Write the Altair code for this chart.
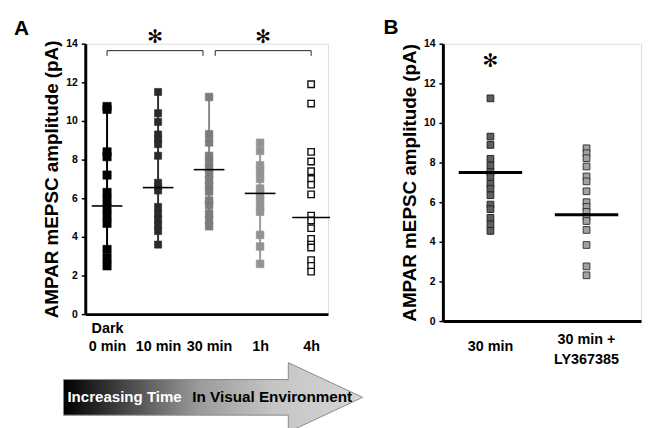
import json
import altair as alt
import pandas as pd

FONT = "Liberation Sans"

# ---------------- data ----------------
cats_a = ["Dark 0 min", "10 min", "30 min", "1h", "4h"]
tick_lines_a = [["Dark", "0 min"], ["", "10 min"], ["", "30 min"], ["", "1h"], ["", "4h"]]
vals_dark = [10.75, 10.6, 8.4, 8.15, 7.2, 6.3, 5.9, 5.5, 5.1, 4.7, 3.35, 2.9, 2.5]
vals_10 = [11.5, 10.4, 9.95, 9.3, 9.05, 8.8, 8.2, 6.8, 6.6, 6.4, 5.55, 5.2, 4.9, 4.6, 4.3, 3.6]
vals_30 = [11.24, 9.31, 8.89, 8.19, 7.85, 7.52, 7.27, 6.93, 6.68, 6.35, 5.88, 5.65, 5.21, 4.88, 4.55]
vals_1h = [8.87, 8.45, 7.7, 7.4, 7.0, 6.5, 6.2, 5.9, 5.6, 5.3, 4.1, 3.5, 2.6]
vals_4h = [11.9, 10.9, 8.4, 7.9, 7.4, 7.0, 6.7, 6.2, 5.1, 4.85, 4.45, 3.9, 3.6, 3.45, 2.8, 2.5, 2.2]
means_a = [5.6, 6.55, 7.48, 6.25, 5.0]

cats_b = ["30 min", "30 min + LY367385"]
tick_lines_b = [["30 min"], ["30 min +", "LY367385"]]
vals_b_30 = vals_30
vals_b_ly = [8.72, 8.47, 8.22, 7.8, 7.3, 7.05, 6.55, 6.0, 5.76, 5.51, 5.26, 5.05, 4.6, 3.84, 2.76, 2.31]
means_b = [7.5, 5.37]

y_ticks = [0, 2, 4, 6, 8, 10, 12, 14]
y_title = "AMPAR mEPSC amplitude (pA)"
arrow_left_text = "Increasing Time"
arrow_right_text = "In Visual Environment"
star = "\u273b"

# ---------------- styles ----------------
fill_a = ["#000000", "#2a2a2a", "#7b7b7b", "#939393", "#ffffff"]
stroke_a = ["#000000", "#2a2a2a", "#7b7b7b", "#939393", "#111111"]
size_a = [70, 52, 60, 60, 42]
sw_a = [0.6, 0.6, 0.6, 0.6, 1.4]
line_a = ["#000000", "#333333", "#888888", "#9a9a9a"]
half_a = [0.3, 0.3, 0.3, 0.3, 0.37]
fill_b = ["#5e5e5e", "#a2a2a2"]
stroke_b = ["#262626", "#363636"]
half_b = [0.33, 0.33]

all_a = [vals_dark, vals_10, vals_30, vals_1h, vals_4h]
rows = []
for i, vs in enumerate(all_a):
    for v in vs:
        rows.append(dict(idx=i, cat=cats_a[i], value=v, fill=fill_a[i], stroke=stroke_a[i],
                         sz=size_a[i], sw=sw_a[i], lc=line_a[i] if i < len(line_a) else "#000"))
df_a = pd.DataFrame(rows)
df_mean_a = pd.DataFrame(dict(idx=list(range(5)), mean=means_a, half=half_a))

rows = []
for i, vs in enumerate([vals_b_30, vals_b_ly]):
    for v in vs:
        rows.append(dict(idx=i, cat=cats_b[i], value=v, fill=fill_b[i], stroke=stroke_b[i]))
df_b = pd.DataFrame(rows)
df_mean_b = pd.DataFrame(dict(idx=[0, 1], mean=means_b, half=half_b))
df_lab_b = pd.DataFrame(dict(idx=[0, 1], lines=tick_lines_b, n=[len(t) for t in tick_lines_b]))

BR_Y, BR_DROP, BR_GAP, STAR_Y = 13.64, 0.27, 0.12, 14.36
brackets = [(0, 2 - BR_GAP), (2 + BR_GAP, 4)]
seg = []
for a, b in brackets:
    seg.append(dict(x=a, x2=b, y=BR_Y, y2=BR_Y))
    seg.append(dict(x=a, x2=a, y=BR_Y, y2=BR_Y - BR_DROP))
    seg.append(dict(x=b, x2=b, y=BR_Y, y2=BR_Y - BR_DROP))
df_br = pd.DataFrame(seg)
df_star_a = pd.DataFrame(dict(x=[(a + b) / 2 for a, b in brackets], y=[STAR_Y, STAR_Y], t=[star, star]))
df_star_b = pd.DataFrame(dict(x=[0], y=[13.13], t=[star]))

one = pd.DataFrame({"k": [0]})

# ---------------- scales / axes ----------------
WA, HA = 245, 273
WB, HB = 200, 280
xa = alt.Scale(domain=[-0.427, 4.33], nice=False, zero=False)
ya = alt.Scale(domain=[0, 14], nice=False)
xb = alt.Scale(domain=[-0.495, 1.567], nice=False, zero=False)
yb = alt.Scale(domain=[0, 14], nice=False)


def y_axis():
    return alt.Axis(values=y_ticks, grid=False, title=y_title, titleFontSize=19,
                    titleFontWeight="bold", titleColor="black", titlePadding=4,
                    labelFontSize=10.5, labelFontWeight="bold", labelColor="black",
                    labelPadding=4, tickSize=4, tickWidth=1.5, tickColor="black",
                    domainWidth=3, domainColor="black")


axis_xa = alt.Axis(values=[0, 1, 2, 3, 4], grid=False, title=None, ticks=False, tickSize=0,
                   domainWidth=3, domainColor="black",
                   labelExpr=json.dumps(tick_lines_a) + "[datum.value]",
                   labelFontSize=14.5, labelFontWeight="bold", labelColor="black",
                   labelBaseline="top", labelPadding=8, labelLineHeight=17.5,
                   labelOverlap=False, labelFlush=False, labelBound=False)
axis_xb = alt.Axis(values=[0, 1], grid=False, title=None, ticks=False, tickSize=0,
                   domainWidth=3, domainColor="black", labels=False)
axis_ya = y_axis()
axis_yb = y_axis()

# ---------------- panel A ----------------
base_a = alt.Chart(df_a)
ranges_a = base_a.transform_filter("datum.idx < 4").mark_rule(strokeWidth=2).encode(
    x=alt.X("idx:Q", scale=xa, axis=axis_xa),
    y=alt.Y("min(value):Q", scale=ya, axis=axis_ya),
    y2="max(value):Q",
    stroke=alt.Stroke("lc:N", scale=None),
)
pts_a = base_a.mark_point(shape="square", filled=True, opacity=1).encode(
    x=alt.X("idx:Q", scale=xa, axis=axis_xa),
    y=alt.Y("value:Q", scale=ya, axis=axis_ya),
    fill=alt.Fill("fill:N", scale=None),
    stroke=alt.Stroke("stroke:N", scale=None),
    size=alt.Size("sz:Q", scale=None),
    strokeWidth=alt.StrokeWidth("sw:Q", scale=None),
)
mean_a = alt.Chart(df_mean_a).transform_calculate(
    x1="datum.idx - datum.half", x2="datum.idx + datum.half"
).mark_rule(color="black", strokeWidth=1.6).encode(
    x=alt.X("x1:Q", scale=xa, axis=axis_xa), x2="x2:Q",
    y=alt.Y("mean:Q", scale=ya, axis=axis_ya),
)
br_a = alt.Chart(df_br).mark_rule(color="#222", strokeWidth=1).encode(
    x=alt.X("x:Q", scale=xa, axis=axis_xa), x2="x2:Q",
    y=alt.Y("y:Q", scale=ya, axis=axis_ya), y2="y2:Q",
)
star_a = alt.Chart(df_star_a).mark_text(font="DejaVu Sans", fontSize=19, fontWeight="bold",
                                        baseline="middle", color="black").encode(
    x=alt.X("x:Q", scale=xa, axis=axis_xa),
    y=alt.Y("y:Q", scale=ya, axis=axis_ya),
    text="t:N",
)
lab_a = alt.Chart(one).mark_text(text="A", font=FONT, fontSize=21, fontWeight="bold",
                                 align="left", baseline="alphabetic", color="black").encode(
    x=alt.value(-72), y=alt.value(-9))

arrow_grad = alt.LinearGradient(
    gradient="linear", x1=0, x2=1, y1=0, y2=0,
    stops=[alt.GradientStop(color="#000000", offset=0),
           alt.GradientStop(color="#555555", offset=0.25),
           alt.GradientStop(color="#9a9a9a", offset=0.45),
           alt.GradientStop(color="#c4c4c4", offset=0.7),
           alt.GradientStop(color="#d6d6d6", offset=1)])
arrow_path = ("M -1 -0.119 L 0.503 -0.119 L 0.503 -0.232 L 1 0 "
              "L 0.503 0.232 L 0.503 0.119 L -1 0.119 Z")
arrow = alt.Chart(one).mark_point(shape=arrow_path, filled=True, fill=arrow_grad,
                                  stroke="#8a8a8a", strokeWidth=1, opacity=1).encode(
    x=alt.value(129), y=alt.value(357), size=alt.value(302 * 302))
arrow_t1 = alt.Chart(one).mark_text(text=arrow_left_text, font=FONT, fontSize=15.2,
                                    fontWeight="bold", align="left", baseline="alphabetic",
                                    color="white").encode(x=alt.value(-18), y=alt.value(362))
arrow_t2 = alt.Chart(one).mark_text(text=arrow_right_text, font=FONT, fontSize=15.4,
                                    fontWeight="bold", align="left", baseline="alphabetic",
                                    color="black").encode(x=alt.value(108), y=alt.value(362))

panel_a = alt.layer(ranges_a, pts_a, mean_a, br_a, star_a, lab_a, arrow, arrow_t1, arrow_t2
                    ).properties(width=WA, height=HA)

# ---------------- panel B ----------------
pts_b = alt.Chart(df_b).mark_point(shape="square", filled=True, opacity=1, size=46,
                                   strokeWidth=1).encode(
    x=alt.X("idx:Q", scale=xb, axis=axis_xb),
    y=alt.Y("value:Q", scale=yb, axis=axis_yb),
    fill=alt.Fill("fill:N", scale=None),
    stroke=alt.Stroke("stroke:N", scale=None),
)
mean_b = alt.Chart(df_mean_b).transform_calculate(
    x1="datum.idx - datum.half", x2="datum.idx + datum.half"
).mark_rule(color="black", strokeWidth=3).encode(
    x=alt.X("x1:Q", scale=xb, axis=axis_xb), x2="x2:Q",
    y=alt.Y("mean:Q", scale=yb, axis=axis_yb),
)
star_b = alt.Chart(df_star_b).mark_text(font="DejaVu Sans", fontSize=19, fontWeight="bold",
                                        baseline="middle", color="black").encode(
    x=alt.X("x:Q", scale=xb, axis=axis_xb),
    y=alt.Y("y:Q", scale=yb, axis=axis_yb),
    text="t:N",
)
# category labels of panel B: one- and two-line labels, vertically centred
labels_b = alt.Chart(df_lab_b).transform_calculate(
    off="(2 - datum.n) * 7"
).mark_text(font=FONT, fontSize=14.5, fontWeight="bold", baseline="top", align="center",
            lineHeight=20, color="black").encode(
    x=alt.X("idx:Q", scale=xb, axis=axis_xb),
    y=alt.value(HB + 12),
    yOffset=alt.YOffset("off:Q", scale=None),
    text="lines:N",
)
lab_b = alt.Chart(one).mark_text(text="B", font=FONT, fontSize=21, fontWeight="bold",
                                 align="left", baseline="alphabetic", color="black").encode(
    x=alt.value(-60), y=alt.value(-10))

panel_b = alt.layer(pts_b, mean_b, star_b, labels_b, lab_b).properties(width=WB, height=HB)

chart = alt.hconcat(panel_a, panel_b, spacing=116, bounds="flush").properties(
    padding={"left": 5, "top": 6, "right": 0, "bottom": 0}
).configure_view(stroke=None).configure(font=FONT)

chart.save("out.html", embed_options={"renderer": "svg", "actions": False})
